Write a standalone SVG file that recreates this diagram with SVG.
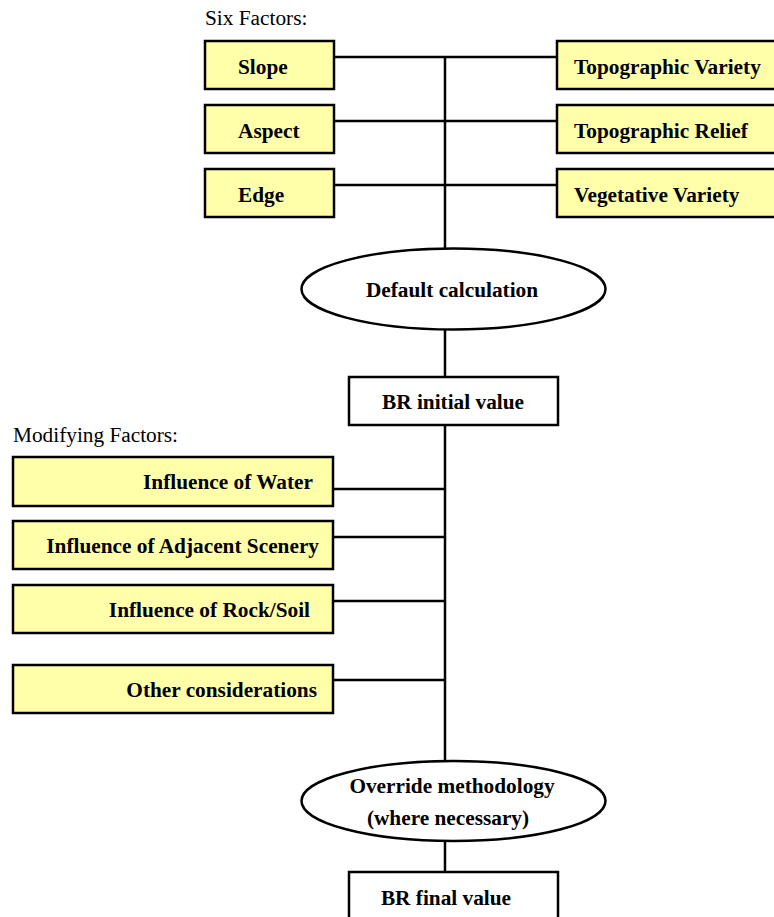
<svg xmlns="http://www.w3.org/2000/svg" width="774" height="917" viewBox="0 0 774 917">
<style>
.f{fill:#ffffaa;stroke:#000;stroke-width:2.5}
.w{fill:#fff;stroke:#000;stroke-width:2.5}
.c{stroke:#000;stroke-width:2.5;fill:none}
.t{font-family:"Liberation Serif","Times New Roman",serif;font-weight:bold;font-size:21.3px;fill:#000}
.l{font-family:"Liberation Serif","Times New Roman",serif;font-size:21.3px;fill:#000}
.m{text-anchor:middle}
.e{text-anchor:end}
</style>
<rect width="774" height="917" fill="#fff"/>
<g id="connectors">
<path class="c" d="M445 57V249M445 329V377M445 425V761M445 841V872"/>
<path class="c" d="M334 57H557M334 121H557M334 185H557"/>
<path class="c" d="M333 489H445M333 537H445M333 601H445M333 680H445"/>
</g>
<text class="l" x="205" y="25">Six Factors:</text>
<text class="l" x="13" y="442">Modifying Factors:</text>
<g id="slope"><rect class="f" x="205" y="41" width="129" height="48"/><text class="t" x="238" y="74">Slope</text></g>
<g id="aspect"><rect class="f" x="205" y="105" width="129" height="48"/><text class="t" x="238" y="138">Aspect</text></g>
<g id="edge"><rect class="f" x="205" y="169" width="129" height="48"/><text class="t" x="238" y="202">Edge</text></g>
<g id="topovariety"><rect class="f" x="557" y="41" width="230" height="48"/><text class="t" x="574" y="74">Topographic Variety</text></g>
<g id="toporelief"><rect class="f" x="557" y="105" width="230" height="48"/><text class="t" x="574" y="138">Topographic Relief</text></g>
<g id="vegvariety"><rect class="f" x="557" y="169" width="230" height="48"/><text class="t" x="574" y="202">Vegetative Variety</text></g>
<g id="default"><ellipse class="w" cx="453.5" cy="289" rx="152" ry="40.5"/><text class="t m" x="452" y="297">Default calculation</text></g>
<g id="brinitial"><rect class="w" x="349" y="377" width="209" height="48"/><text class="t m" x="453" y="409">BR initial value</text></g>
<g id="water"><rect class="f" x="13" y="457" width="320" height="49"/><text class="t e" x="313" y="489">Influence of Water</text></g>
<g id="adjacent"><rect class="f" x="13" y="521" width="320" height="48"/><text class="t e" x="319" y="553">Influence of Adjacent Scenery</text></g>
<g id="rocksoil"><rect class="f" x="13" y="585" width="320" height="48"/><text class="t e" x="310" y="617">Influence of Rock/Soil</text></g>
<g id="other"><rect class="f" x="13" y="665" width="320" height="48"/><text class="t e" x="317" y="697">Other considerations</text></g>
<g id="override"><ellipse class="w" cx="453.5" cy="801" rx="152" ry="40"/><text class="t m" x="452" y="793">Override methodology</text><text class="t m" x="448" y="825">(where necessary)</text></g>
<g id="brfinal"><rect class="w" x="349" y="872" width="209" height="60"/><text class="t m" x="446" y="905">BR final value</text></g>
</svg>
